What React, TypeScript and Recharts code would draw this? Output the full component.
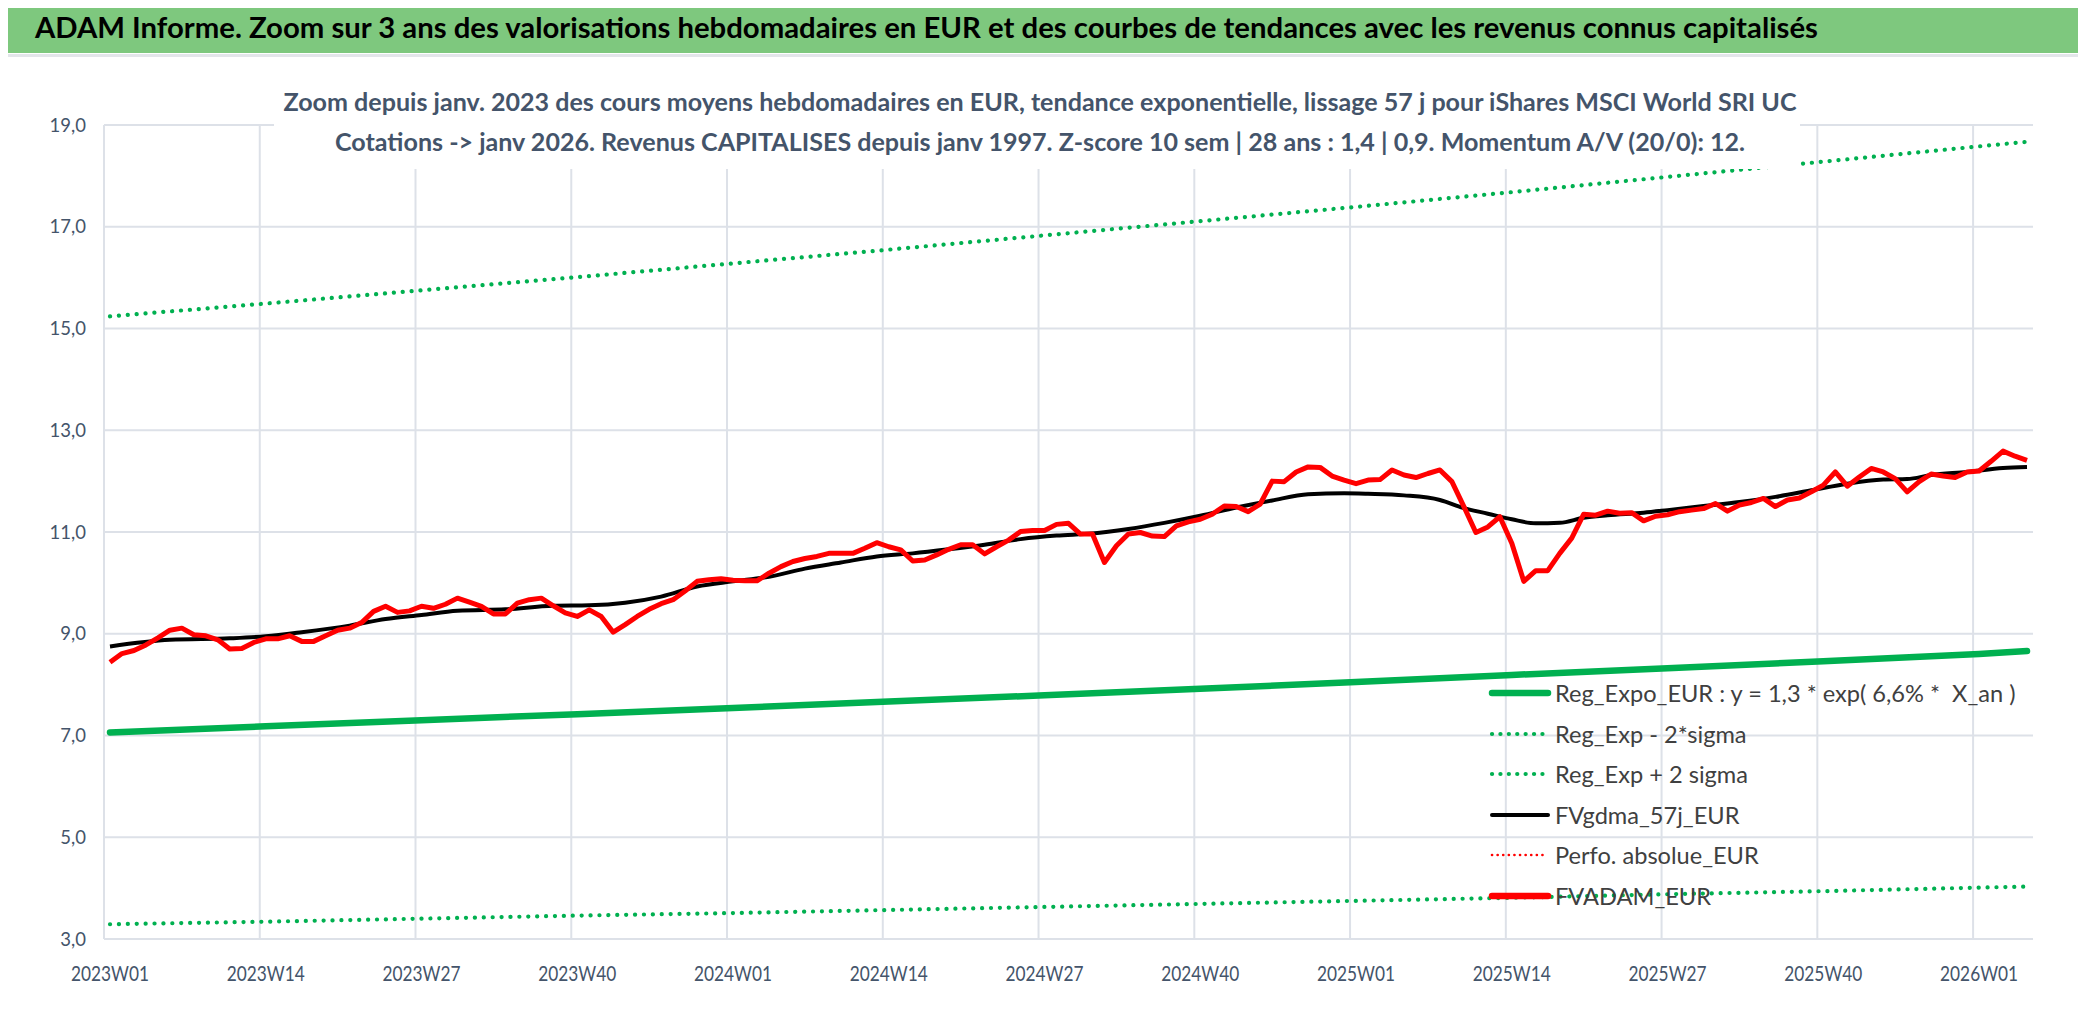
import React from "react";
import { LineChart, Line, XAxis, YAxis, CartesianGrid, Legend } from "recharts";

const W = 2086;
const H = 1031;
const FONT = "Lato, 'Noto Sans', sans-serif";

const TITLE =
  "ADAM Informe. Zoom sur 3 ans des valorisations hebdomadaires en EUR et des courbes de tendances avec les revenus connus capitalisés";
const SUB1 =
  "Zoom depuis janv. 2023 des cours moyens hebdomadaires en EUR, tendance exponentielle, lissage 57 j pour iShares MSCI World SRI UC";
const SUB2 =
  "Cotations -> janv 2026. Revenus CAPITALISES depuis janv 1997. Z-score 10 sem | 28 ans : 1,4 | 0,9. Momentum A/V (20/0): 12.";

// x = week index from 2023W01 (0) to 2026W05 (160)
const xTickIdx = [0, 13, 26, 39, 52, 65, 78, 91, 104, 117, 130, 143, 156];
const xTickLabels = [
  "2023W01", "2023W14", "2023W27", "2023W40", "2024W01", "2024W14", "2024W27",
  "2024W40", "2025W01", "2025W14", "2025W27", "2025W40", "2026W01",
];
const yTicks = [3, 5, 7, 9, 11, 13, 15, 17, 19];

// FVADAM_EUR, one value per week
const fvadam = [
  8.44, 8.61, 8.67, 8.78, 8.92, 9.07, 9.11, 8.98, 8.96, 8.88,
  8.70, 8.71, 8.83, 8.90, 8.90, 8.96, 8.85, 8.85, 8.96, 9.07,
  9.11, 9.22, 9.44, 9.54, 9.42, 9.45, 9.54, 9.50, 9.58, 9.70,
  9.62, 9.54, 9.39, 9.39, 9.60, 9.67, 9.70, 9.55, 9.41, 9.34,
  9.47, 9.34, 9.03, 9.18, 9.34, 9.48, 9.59, 9.67, 9.84, 10.03,
  10.06, 10.08, 10.05, 10.04, 10.04, 10.19, 10.32, 10.42, 10.48, 10.52,
  10.58, 10.58, 10.58, 10.68, 10.79, 10.71, 10.65, 10.43, 10.45, 10.55,
  10.66, 10.75, 10.75, 10.57, 10.71, 10.84, 11.01, 11.03, 11.03, 11.15,
  11.17, 10.96, 10.96, 10.40, 10.73, 10.96, 10.99, 10.92, 10.91, 11.12,
  11.20, 11.25, 11.35, 11.51, 11.50, 11.40, 11.55, 12.00, 11.99, 12.18,
  12.28, 12.27, 12.10, 12.02, 11.95, 12.02, 12.03, 12.22, 12.12, 12.07,
  12.15, 12.22, 11.99, 11.50, 10.99, 11.10, 11.30, 10.78, 10.03, 10.24,
  10.24, 10.58, 10.88, 11.35, 11.33, 11.41, 11.37, 11.38, 11.22, 11.31,
  11.34, 11.40, 11.43, 11.46, 11.56, 11.41, 11.53, 11.58, 11.66, 11.50,
  11.63, 11.67, 11.79, 11.92, 12.18, 11.90, 12.08, 12.25, 12.18, 12.05,
  11.79, 11.99, 12.14, 12.10, 12.07, 12.18, 12.20, 12.39, 12.59, 12.49,
  12.41,
];

// FVgdma_57j_EUR, read at selected weeks
const gdmaIdx = [
  0, 5, 10, 13, 16, 20, 23, 26, 29, 33, 37, 40, 43, 46, 49, 52, 55, 58, 61, 64,
  67, 70, 73, 76, 79, 82, 85, 88, 91, 94, 97, 100, 103, 105, 108, 111, 113, 115,
  117, 119, 121, 123, 125, 128, 130, 133, 136, 139, 142, 145, 148, 150, 152, 155,
  158, 160,
];
const gdmaVal = [
  8.75, 8.88, 8.91, 8.95, 9.03, 9.16, 9.29, 9.37, 9.45, 9.48, 9.55, 9.56, 9.61,
  9.73, 9.93, 10.03, 10.12, 10.28, 10.40, 10.52, 10.58, 10.66, 10.75, 10.86,
  10.93, 10.97, 11.06, 11.18, 11.32, 11.48, 11.62, 11.74, 11.76, 11.75, 11.72,
  11.63, 11.47, 11.36, 11.25, 11.17, 11.18, 11.28, 11.33, 11.38, 11.43, 11.51,
  11.59, 11.69, 11.82, 11.95, 12.03, 12.04, 12.12, 12.18, 12.26, 12.28,
];

// regression curves, read every 13 weeks and at the last week
const regIdx = [0, 13, 26, 39, 52, 65, 78, 91, 104, 117, 130, 143, 156, 160];
const regExpo = [7.06, 7.18, 7.30, 7.42, 7.54, 7.67, 7.79, 7.92, 8.05, 8.19, 8.32, 8.46, 8.60, 8.66];
const regLow = [3.29, 3.34, 3.40, 3.46, 3.51, 3.57, 3.63, 3.69, 3.75, 3.81, 3.88, 3.94, 4.01, 4.03];
const regHigh = [15.24, 15.49, 15.75, 16.01, 16.28, 16.55, 16.83, 17.11, 17.39, 17.68, 17.98, 18.28, 18.58, 18.67];

const X_MIN = -0.5;
const X_MAX = 160.5;

const pts = (idx: number[], vals: number[]) => idx.map((i, k) => ({ i, v: vals[k] }));
const fvadamPts = fvadam.map((v, i) => ({ i, v }));
const gdmaPts = pts(gdmaIdx, gdmaVal);
const expoPts = pts(regIdx, regExpo);
const lowPts = pts(regIdx, regLow);
const highPts = pts(regIdx, regHigh);

const GREEN = "#00B050";
const DOTS = "0.1 8.8";

const legendItems = [
  { name: "Reg_Expo_EUR : y = 1,3 * exp( 6,6% *  X_an )", color: GREEN, width: 6.5 },
  { name: "Reg_Exp - 2*sigma", color: GREEN, width: 4.2, dash: "0.1 8.3" },
  { name: "Reg_Exp + 2 sigma", color: GREEN, width: 4.2, dash: "0.1 8.3" },
  { name: "FVgdma_57j_EUR", color: "#000000", width: 4 },
  { name: "Perfo. absolue_EUR", color: "#FF0000", width: 2.6, dash: "0.1 5.5" },
  { name: "FVADAM_EUR", color: "#FF0000", width: 6.5 },
];

const renderLegend = () => (
  <div style={{ fontFamily: FONT, fontSize: 23.6, color: "#404040" }}>
    {legendItems.map((it) => (
      <div key={it.name} style={{ display: "flex", alignItems: "center", height: 40.5 }}>
        <svg width={64} height={14} style={{ flex: "none" }}>
          <line
            x1={4}
            x2={60}
            y1={7}
            y2={7}
            stroke={it.color}
            strokeWidth={it.width}
            strokeDasharray={it.dash}
            strokeLinecap="round"
          />
        </svg>
        <span style={{ marginLeft: 3, whiteSpace: "pre" }}>{it.name}</span>
      </div>
    ))}
  </div>
);

const gridX = ({ xAxis, offset }: any) => {
  const s = xAxis && xAxis.scale;
  return xTickIdx.map((t) =>
    typeof s === "function"
      ? s(t - 0.5)
      : offset.left + ((t - 0.5 - X_MIN) / (X_MAX - X_MIN)) * offset.width
  );
};

const fmtY = (v: number) => v.toFixed(1).replace(".", ",");
const fmtX = (v: number) => xTickLabels[xTickIdx.indexOf(v)] ?? "";

const XTick = ({ x, y, payload }: any) => (
  <text
    x={x}
    y={y}
    dy={14}
    textAnchor="middle"
    fill="#44546A"
    fontFamily={FONT}
    fontSize={20.5}
    textLength={78}
    lengthAdjust="spacingAndGlyphs"
  >
    {fmtX(payload.value)}
  </text>
);

export default function App() {
  return (
    <div style={{ position: "relative", width: W, height: H, margin: -8, background: "#fff", overflow: "hidden" }}>
      <LineChart
        width={W}
        height={H}
        margin={{ top: 125, right: 53, left: 44, bottom: 42 }}
        style={{ position: "absolute", left: 0, top: 0 }}
      >
        <CartesianGrid stroke="#DDE1E8" strokeWidth={2} verticalCoordinatesGenerator={gridX} />
        <XAxis
          dataKey="i"
          type="number"
          domain={[X_MIN, X_MAX]}
          ticks={xTickIdx}
          interval={0}
          tickFormatter={fmtX}
          axisLine={false}
          tickLine={false}
          tickSize={0}
          tickMargin={28}
          height={50}
          tick={<XTick />}
        />
        <YAxis
          type="number"
          domain={[3, 19]}
          ticks={yTicks}
          interval={0}
          tickFormatter={fmtY}
          axisLine={false}
          tickLine={false}
          tickSize={0}
          tickMargin={18}
          width={60}
          tick={{ fill: "#44546A", fontSize: 18.5, fontFamily: FONT }}
        />
        <Line data={highPts} dataKey="v" name="Reg_Exp + 2 sigma" stroke={GREEN} strokeWidth={4.2} strokeDasharray={DOTS} strokeLinecap="round" dot={false} activeDot={false} isAnimationActive={false} />
        <Line data={lowPts} dataKey="v" name="Reg_Exp - 2*sigma" stroke={GREEN} strokeWidth={4.2} strokeDasharray={DOTS} strokeLinecap="round" dot={false} activeDot={false} isAnimationActive={false} />
        <Line data={expoPts} dataKey="v" name="Reg_Expo_EUR" stroke={GREEN} strokeWidth={6.5} strokeLinecap="round" dot={false} activeDot={false} isAnimationActive={false} />
        <Line data={gdmaPts} dataKey="v" name="FVgdma_57j_EUR" type="monotone" stroke="#000000" strokeWidth={4} dot={false} activeDot={false} isAnimationActive={false} />
        <Line data={fvadamPts} dataKey="v" name="FVADAM_EUR" stroke="#FF0000" strokeWidth={5} strokeLinejoin="round" dot={false} activeDot={false} isAnimationActive={false} />
        <Legend
          content={renderLegend}
          layout="horizontal"
          verticalAlign="middle"
          align="center"
          wrapperStyle={{ position: "absolute", left: 1488, top: 673, width: 590, height: 245 }}
        />
      </LineChart>

      {/* title bar */}
      <div style={{ position: "absolute", left: 0, top: 0, width: W, height: 53, background: "#7EC87E", borderTop: "2px solid #8C8C8C", boxSizing: "border-box" }}>
        <svg width={W} height={51} style={{ display: "block" }}>
          <text x={35} y={36} fontFamily={FONT} fontWeight={700} fontSize={28.5} fill="#000" textLength={1783} lengthAdjust="spacingAndGlyphs">
            {TITLE}
          </text>
        </svg>
      </div>
      <div style={{ position: "absolute", left: 0, top: 54, width: W, height: 3, background: "#E3E6EA" }} />

      {/* chart title box (white, hides what lies under it) */}
      <div style={{ position: "absolute", left: 274, top: 60, width: 1526, height: 109, background: "#fff" }}>
        <svg width={1526} height={109} style={{ display: "block" }}>
          <text x={766} y={51} textAnchor="middle" fontFamily={FONT} fontWeight={700} fontSize={25} fill="#44546A" textLength={1513} lengthAdjust="spacingAndGlyphs">
            {SUB1}
          </text>
          <text x={766} y={91} textAnchor="middle" fontFamily={FONT} fontWeight={700} fontSize={25} fill="#44546A" textLength={1410} lengthAdjust="spacingAndGlyphs">
            {SUB2}
          </text>
        </svg>
      </div>

      {/* frame */}
      <div style={{ position: "absolute", left: 0, top: 0, width: 2, height: H, background: "#9A9A9A" }} />
      <div style={{ position: "absolute", right: 0, top: 0, width: 2, height: H, background: "#9A9A9A" }} />
      <div style={{ position: "absolute", left: 0, top: 1024, width: W, height: 3, background: "#E3E6EA" }} />
      <div style={{ position: "absolute", left: 0, top: 1028, width: W, height: 3, background: "#8C8C8C" }} />
      <div style={{ position: "absolute", left: 0, top: 1025, width: 22, height: 3, background: "#F2C12E" }} />
      <div style={{ position: "absolute", left: 1250, top: 1025, width: 210, height: 3, background: "#F7E27A" }} />
      <div style={{ position: "absolute", right: 0, top: 52, width: 4, height: 20, background: "#F2C12E" }} />
      <div style={{ position: "absolute", right: 0, top: 990, width: 4, height: 38, background: "#F2C12E" }} />
    </div>
  );
}
